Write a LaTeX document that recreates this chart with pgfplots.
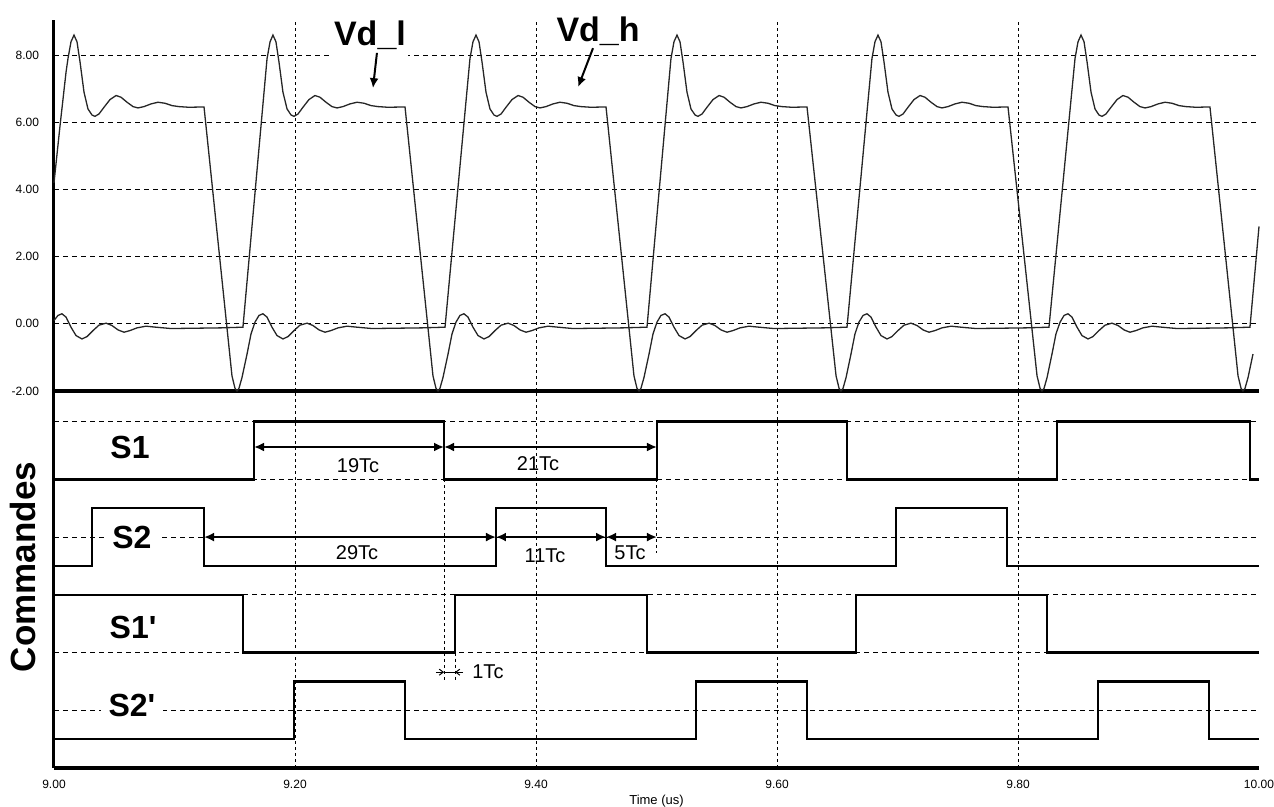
\documentclass[border=0pt]{standalone}
\usepackage{fontspec}
\setmainfont{Liberation Sans}
\newfontfamily\plainsans{Liberation Sans}
\usepackage{pgfplots}
\pgfplotsset{compat=1.18}
\usetikzlibrary{arrows.meta}
\begin{document}
\begin{tikzpicture}
% ---------------- top panel ----------------
\begin{axis}[
  at={(0pt,188.5pt)}, anchor=south west, scale only axis,
  width=602.5pt, height=185.5pt,
  xmin=9, xmax=10, ymin=-2, ymax=9.05,
  axis x line*=bottom, axis y line*=left,
  x axis line style={-, line width=2pt},
  y axis line style={-, line width=1.5pt},
  xtick={9.2,9.4,9.6,9.8}, xticklabels={},
  ytick={-2,0,2,4,6,8},
  yticklabels={-2.00,0.00,2.00,4.00,6.00,8.00},
  yticklabel style={font=\fontsize{6}{7}\selectfont, xshift=-4pt},
  major tick length=0pt,
  xmajorgrids, ymajorgrids,
  major x grid style={black, line width=0.5pt, dash pattern=on 1.5pt off 1.5pt},
  major y grid style={black, line width=0.5pt, dash pattern=on 2.5pt off 2pt},
  clip=false,
]
% Vd (curve starting high)
\addplot[black!85, line width=0.65pt] coordinates {
(9.0000,4.2)(9.0050,5.9)(9.0100,7.5)(9.0116,7.9)(9.0141,8.4)(9.0166,8.6)(9.0191,8.4)(9.0216,7.8)(9.0249,6.9)(9.0282,6.4)(9.0315,6.22)(9.0340,6.18)(9.0373,6.25)(9.0415,6.45)(9.0465,6.68)(9.0515,6.8)(9.0556,6.75)(9.0606,6.6)(9.0656,6.47)(9.0697,6.43)(9.0747,6.47)(9.0805,6.55)(9.0863,6.6)(9.0921,6.57)(9.0979,6.5)(9.1037,6.47)(9.1120,6.45)(9.1245,6.46)
(9.1477,-1.55)(9.1502,-1.92)(9.1519,-2.0)(9.1535,-1.92)(9.1560,-1.6)(9.1602,-0.9)(9.1635,-0.3)(9.1668,0.05)(9.1701,0.25)(9.1734,0.3)(9.1768,0.2)(9.1809,-0.1)(9.1851,-0.35)(9.1900,-0.45)(9.1942,-0.38)(9.1992,-0.2)(9.2041,-0.04)(9.2100,0.02)(9.2149,-0.05)(9.2199,-0.18)(9.2249,-0.25)(9.2299,-0.2)(9.2357,-0.12)(9.2432,-0.07)(9.2515,-0.1)(9.2639,-0.14)(9.2846,-0.13)(9.3054,-0.12)(9.3245,-0.1)
(9.3452,7.9)(9.3477,8.4)(9.3502,8.6)(9.3527,8.4)(9.3552,7.8)(9.3585,6.9)(9.3618,6.4)(9.3651,6.22)(9.3676,6.18)(9.3710,6.25)(9.3751,6.45)(9.3801,6.68)(9.3851,6.8)(9.3892,6.75)(9.3942,6.6)(9.3992,6.47)(9.4033,6.43)(9.4083,6.47)(9.4141,6.55)(9.4199,6.6)(9.4257,6.57)(9.4315,6.5)(9.4373,6.47)(9.4456,6.45)(9.4581,6.46)
(9.4813,-1.55)(9.4838,-1.92)(9.4855,-2.0)(9.4871,-1.92)(9.4896,-1.6)(9.4938,-0.9)(9.4971,-0.3)(9.5004,0.05)(9.5037,0.25)(9.5071,0.3)(9.5104,0.2)(9.5145,-0.1)(9.5187,-0.35)(9.5237,-0.45)(9.5278,-0.38)(9.5328,-0.2)(9.5378,-0.04)(9.5436,0.02)(9.5485,-0.05)(9.5535,-0.18)(9.5585,-0.25)(9.5635,-0.2)(9.5693,-0.12)(9.5768,-0.07)(9.5851,-0.1)(9.5975,-0.14)(9.6183,-0.13)(9.6390,-0.12)(9.6581,-0.1)
(9.6788,7.9)(9.6813,8.4)(9.6838,8.6)(9.6863,8.4)(9.6888,7.8)(9.6921,6.9)(9.6954,6.4)(9.6988,6.22)(9.7012,6.18)(9.7046,6.25)(9.7087,6.45)(9.7137,6.68)(9.7187,6.8)(9.7228,6.75)(9.7278,6.6)(9.7328,6.47)(9.7369,6.43)(9.7419,6.47)(9.7477,6.55)(9.7535,6.6)(9.7593,6.57)(9.7651,6.5)(9.7710,6.47)(9.7793,6.45)(9.7917,6.46)
(9.8158,-1.55)(9.8183,-1.92)(9.8199,-2.0)(9.8216,-1.92)(9.8241,-1.6)(9.8282,-0.9)(9.8315,-0.3)(9.8349,0.05)(9.8382,0.25)(9.8415,0.3)(9.8448,0.2)(9.8490,-0.1)(9.8531,-0.35)(9.8581,-0.45)(9.8622,-0.38)(9.8672,-0.2)(9.8722,-0.04)(9.8780,0.02)(9.8830,-0.05)(9.8880,-0.18)(9.8929,-0.25)(9.8979,-0.2)(9.9037,-0.12)(9.9112,-0.07)(9.9195,-0.1)(9.9320,-0.14)(9.9527,-0.13)(9.9734,-0.12)(9.9925,-0.1)(10.0000,2.9)
};
% Vd (curve starting low)
\addplot[black!85, line width=0.65pt] coordinates {
(9.0000,0.1)(9.0033,0.25)(9.0066,0.3)(9.0100,0.2)(9.0141,-0.1)(9.0183,-0.35)(9.0232,-0.45)(9.0274,-0.38)(9.0324,-0.2)(9.0373,-0.04)(9.0432,0.02)(9.0481,-0.05)(9.0531,-0.18)(9.0581,-0.25)(9.0631,-0.2)(9.0689,-0.12)(9.0763,-0.07)(9.0846,-0.1)(9.0971,-0.14)(9.1178,-0.13)(9.1386,-0.12)(9.1568,-0.1)
(9.1768,7.9)(9.1793,8.4)(9.1817,8.6)(9.1842,8.4)(9.1867,7.8)(9.1900,6.9)(9.1934,6.4)(9.1967,6.22)(9.1992,6.18)(9.2025,6.25)(9.2066,6.45)(9.2116,6.68)(9.2166,6.8)(9.2207,6.75)(9.2257,6.6)(9.2307,6.47)(9.2349,6.43)(9.2398,6.47)(9.2456,6.55)(9.2515,6.6)(9.2573,6.57)(9.2631,6.5)(9.2689,6.47)(9.2772,6.45)(9.2913,6.46)
(9.3145,-1.55)(9.3170,-1.92)(9.3187,-2.0)(9.3203,-1.92)(9.3228,-1.6)(9.3270,-0.9)(9.3303,-0.3)(9.3336,0.05)(9.3369,0.25)(9.3402,0.3)(9.3436,0.2)(9.3477,-0.1)(9.3519,-0.35)(9.3568,-0.45)(9.3610,-0.38)(9.3660,-0.2)(9.3710,-0.04)(9.3768,0.02)(9.3817,-0.05)(9.3867,-0.18)(9.3917,-0.25)(9.3967,-0.2)(9.4025,-0.12)(9.4100,-0.07)(9.4183,-0.1)(9.4307,-0.14)(9.4515,-0.13)(9.4722,-0.12)(9.4921,-0.1)
(9.5120,7.9)(9.5145,8.4)(9.5170,8.6)(9.5195,8.4)(9.5220,7.8)(9.5253,6.9)(9.5286,6.4)(9.5320,6.22)(9.5344,6.18)(9.5378,6.25)(9.5419,6.45)(9.5469,6.68)(9.5519,6.8)(9.5560,6.75)(9.5610,6.6)(9.5660,6.47)(9.5701,6.43)(9.5751,6.47)(9.5809,6.55)(9.5867,6.6)(9.5925,6.57)(9.5983,6.5)(9.6041,6.47)(9.6124,6.45)(9.6249,6.46)
(9.6490,-1.55)(9.6515,-1.92)(9.6531,-2.0)(9.6548,-1.92)(9.6573,-1.6)(9.6614,-0.9)(9.6647,-0.3)(9.6680,0.05)(9.6714,0.25)(9.6747,0.3)(9.6780,0.2)(9.6822,-0.1)(9.6863,-0.35)(9.6913,-0.45)(9.6954,-0.38)(9.7004,-0.2)(9.7054,-0.04)(9.7112,0.02)(9.7162,-0.05)(9.7212,-0.18)(9.7261,-0.25)(9.7311,-0.2)(9.7369,-0.12)(9.7444,-0.07)(9.7527,-0.1)(9.7651,-0.14)(9.7859,-0.13)(9.8066,-0.12)(9.8257,-0.1)
(9.8473,7.9)(9.8498,8.4)(9.8523,8.6)(9.8548,8.4)(9.8573,7.8)(9.8606,6.9)(9.8639,6.4)(9.8672,6.22)(9.8697,6.18)(9.8730,6.25)(9.8772,6.45)(9.8822,6.68)(9.8871,6.8)(9.8913,6.75)(9.8963,6.6)(9.9012,6.47)(9.9054,6.43)(9.9104,6.47)(9.9162,6.55)(9.9220,6.6)(9.9278,6.57)(9.9336,6.5)(9.9394,6.47)(9.9477,6.45)(9.9593,6.46)
(9.9826,-1.55)(9.9851,-1.92)(9.9867,-2.0)(9.9884,-1.92)(9.9909,-1.6)(9.9950,-0.9)
};
\node[anchor=base, fill=white, inner xsep=1pt, inner ysep=0pt, text depth=6pt,
      font=\fontsize{17}{19}\selectfont\bfseries] at (axis cs:9.2622,8.30) {Vd\_l};
\node[anchor=base, inner sep=0pt, font=\fontsize{17}{19}\selectfont\bfseries]
      at (axis cs:9.4515,8.42) {Vd\_h};
\draw[line width=1pt, -{Latex[length=5pt,width=4.5pt]}] (axis cs:9.2680,8.07) -- (axis cs:9.2647,7.02);
\draw[line width=1pt, -{Latex[length=5pt,width=4.5pt]}] (axis cs:9.4473,8.21) -- (axis cs:9.4349,7.05);
\end{axis}

% ---------------- bottom panel ----------------
\begin{axis}[
  at={(0pt,0pt)}, anchor=south west, scale only axis,
  width=602.5pt, height=188.5pt,
  xmin=9, xmax=10, ymin=0, ymax=6.53,
  axis x line*=bottom, axis y line*=left,
  x axis line style={-, line width=1.6pt},
  y axis line style={-, line width=1.5pt},
  xtick={9.2,9.4,9.6,9.8}, xticklabels={9.20,9.40,9.60,9.80},
  extra x ticks={9,10}, extra x tick labels={9.00,10.00},
  extra x tick style={grid=none},
  xticklabel style={font=\fontsize{6}{7}\selectfont, yshift=-2.5pt},
  ytick={1,2,3,4,5,6}, yticklabels={},
  major tick length=0pt,
  xmajorgrids, ymajorgrids,
  major x grid style={black, line width=0.5pt, dash pattern=on 1.5pt off 1.5pt},
  major y grid style={black, line width=0.5pt, dash pattern=on 2.5pt off 2pt},
  clip=false,
]
\addplot[const plot, black, line width=1.2pt] coordinates {(9,5)(9.1660,6)(9.3237,5)(9.5004,6)(9.6581,5)(9.8324,6)(9.9925,5)(10,5)};
\addplot[const plot, black, line width=1.2pt] coordinates {(9,3.5)(9.0315,4.5)(9.1245,3.5)(9.3668,4.5)(9.4581,3.5)(9.6988,4.5)(9.7909,3.5)(10,3.5)};
\addplot[const plot, black, line width=1.2pt] coordinates {(9,3)(9.1568,2)(9.3328,3)(9.4921,2)(9.6656,3)(9.8241,2)(10,2)};
\addplot[const plot, black, line width=1.2pt] coordinates {(9,0.5)(9.1992,1.5)(9.2913,0.5)(9.5328,1.5)(9.6249,0.5)(9.8664,1.5)(9.9585,0.5)(10,0.5)};
% extension lines
\draw[black, line width=0.5pt, dash pattern=on 1.5pt off 1.5pt] (axis cs:9.3237,5) -- (axis cs:9.3237,1.49);
\draw[black, line width=0.5pt, dash pattern=on 1.5pt off 1.5pt] (axis cs:9.3328,2) -- (axis cs:9.3328,1.49);
\draw[black, line width=0.5pt, dash pattern=on 1.5pt off 1.5pt] (axis cs:9.5004,5) -- (axis cs:9.5004,3.73);
% labels
\begin{scope}[every node/.style={font=\plainsans\fontsize{16}{18}\selectfont\bfseries, fill=white, inner xsep=4pt, inner ysep=1pt}]
\node at (axis cs:9.0631,5.56) {S1};
\node at (axis cs:9.0647,4.0) {S2};
\node at (axis cs:9.0656,2.44) {S1'};
\node at (axis cs:9.0647,1.09) {S2'};
\end{scope}
% dimension arrows
\begin{scope}[line width=1pt, {Latex[length=5pt,width=4.5pt]}-{Latex[length=5pt,width=4.5pt]}]
\draw (axis cs:9.1660,5.56) -- (axis cs:9.3237,5.56);
\draw (axis cs:9.3237,5.56) -- (axis cs:9.5004,5.56);
\draw (axis cs:9.1245,4.0) -- (axis cs:9.3668,4.0);
\draw (axis cs:9.3668,4.0) -- (axis cs:9.4581,4.0);
\draw (axis cs:9.4581,4.0) -- (axis cs:9.5004,4.0);
\end{scope}
\draw[line width=0.5pt, -{Straight Barb[length=2pt,width=3pt]}] (axis cs:9.3170,1.66) -- (axis cs:9.3237,1.66);
\draw[line width=0.5pt, -{Straight Barb[length=2pt,width=3pt]}] (axis cs:9.3395,1.66) -- (axis cs:9.3328,1.66);
\draw[line width=0.5pt] (axis cs:9.3237,1.66) -- (axis cs:9.3328,1.66);
\begin{scope}[every node/.style={font=\fontsize{10}{12}\selectfont, inner sep=1pt}]
\node at (axis cs:9.2523,5.23) {19Tc};
\node at (axis cs:9.4017,5.27) {21Tc};
\node at (axis cs:9.2515,3.73) {29Tc};
\node at (axis cs:9.4075,3.67) {11Tc};
\node at (axis cs:9.4780,3.73) {5Tc};
\node[anchor=west] at (axis cs:9.3452,1.66) {1Tc};
\end{scope}
\node[rotate=90, font=\fontsize{17.5}{20}\selectfont\bfseries] at (rel axis cs:-0.0257,0.533) {Commandes};
\node[font=\fontsize{6.5}{8}\selectfont] at (rel axis cs:0.5,0) [yshift=-16.5pt] {Time (us)};
\end{axis}
\pgfresetboundingbox
\path[use as bounding box] (-27pt,-19.5pt) rectangle (610pt,384pt);
\end{tikzpicture}
\end{document}
